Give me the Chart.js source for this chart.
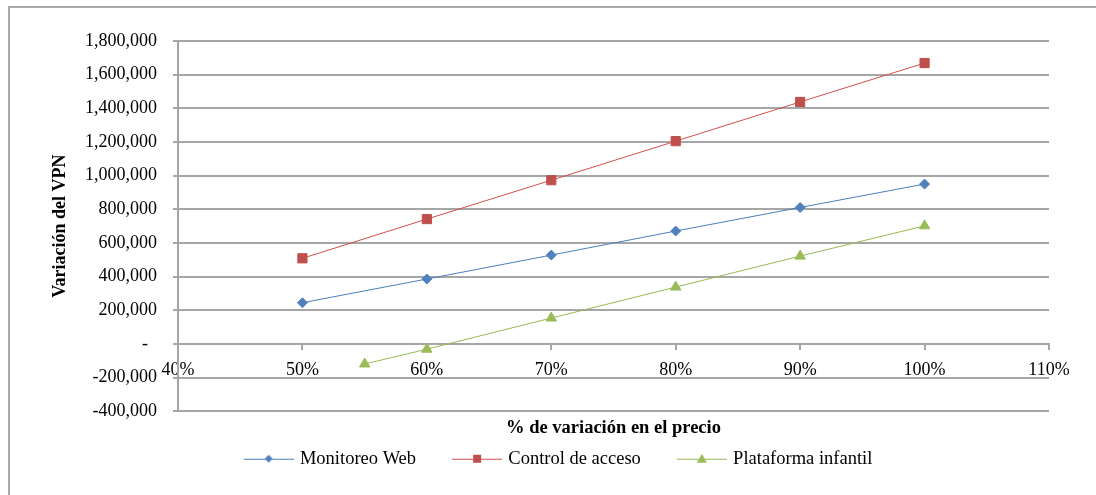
<!DOCTYPE html>
<html>
<head>
<meta charset="utf-8">
<script src="https://cdn.jsdelivr.net/npm/chart.js"></script>
<style>
  html, body { margin: 0; padding: 0; background: #fff; overflow: hidden; }
  #frame { position: absolute; left: 8px; top: 6px; width: 1200px; height: 600px; border: 2px solid #a8a8a8; box-sizing: border-box; }
  #wrap { position: absolute; left: 0; top: 0; width: 1096px; height: 495px; }
</style>
</head>
<body>
<div id="frame"></div>
<div id="wrap"><canvas id="chart"></canvas></div>
<script>
// % de variación en el precio
const precioPct = [50, 60, 70, 80, 90, 100];
const plataformaPct = [55, 60, 70, 80, 90, 100];

// Variación del VPN
const monitoreoWeb = [245000, 386000, 528000, 671000, 811000, 950000];
const controlAcceso = [509000, 742000, 973000, 1205000, 1438000, 1669000];
const plataformaInfantil = [-119000, -31000, 154000, 338000, 522000, 702000];

const xTicks = { min: 40, max: 110, step: 10 };
const yTicks = { min: -400000, max: 1800000, step: 200000 };

const FONT = '"Liberation Serif", "Times New Roman", serif';
const GRID = "#a6a6a6";

const series = [
  { label: "Monitoreo Web", x: precioPct, y: monitoreoWeb, line: "#4a7ebb", fill: "#4f81bd", style: "rectRot", r: 5 },
  { label: "Control de acceso", x: precioPct, y: controlAcceso, line: "#d0504b", fill: "#c0504d", style: "rect", r: 6.5 },
  { label: "Plataforma infantil", x: plataformaPct, y: plataformaInfantil, line: "#98b954", fill: "#9bbb59", style: "triangle", r: 6 },
];

// legend symbol: line with marker in the middle (left part kept empty as spacing)
function legendIcon(s) {
  const c = document.createElement("canvas");
  c.width = 80;
  c.height = 14;
  const g = c.getContext("2d");
  g.strokeStyle = s.line;
  g.lineWidth = 1;
  g.beginPath();
  g.moveTo(30, 7.5);
  g.lineTo(80, 7.5);
  g.stroke();
  g.fillStyle = s.fill;
  g.beginPath();
  if (s.style === "rectRot") {
    g.moveTo(55, 3); g.lineTo(59, 7); g.lineTo(55, 11); g.lineTo(51, 7);
  } else if (s.style === "rect") {
    g.rect(51, 3, 8, 8);
  } else {
    g.moveTo(55, 2); g.lineTo(60, 11); g.lineTo(50, 11);
  }
  g.closePath();
  g.fill();
  return c;
}

new Chart(document.getElementById("chart").getContext("2d"), {
  type: "line",
  data: {
    datasets: series.map((s) => ({
      label: s.label,
      data: s.x.map((v, i) => ({ x: v, y: s.y[i] })),
      borderColor: s.line,
      borderWidth: 1,
      backgroundColor: s.fill,
      pointBackgroundColor: s.fill,
      pointBorderColor: s.fill,
      pointStyle: s.style,
      pointRadius: s.r,
      pointHoverRadius: s.r,
      tension: 0,
      fill: false,
    })),
  },
  options: {
    responsive: true,
    maintainAspectRatio: false,
    animation: false,
    layout: { padding: { left: 40, right: 47, top: 41, bottom: 17 } },
    scales: {
      x: {
        type: "linear",
        position: { y: 0 },
        min: xTicks.min,
        max: xTicks.max,
        ticks: {
          stepSize: xTicks.step,
          padding: 10,
          color: "#000",
          font: { family: FONT, size: 18 },
          maxRotation: 0,
          callback: (v) => v + "%",
        },
        grid: { drawOnChartArea: false, drawTicks: true, tickLength: 5, color: GRID, lineWidth: 2 },
        border: { color: GRID, width: 2 },
      },
      y: {
        min: yTicks.min,
        max: yTicks.max,
        ticks: {
          stepSize: yTicks.step,
          padding: 16,
          color: "#000",
          font: { family: FONT, size: 18 },
          callback: (v) => (v === 0 ? "-  " : v.toLocaleString("en-US")),
        },
        grid: { color: GRID, lineWidth: 2, tickLength: 5 },
        border: { color: GRID, width: 2 },
        title: {
          display: true,
          text: "Variación del VPN",
          color: "#000",
          font: { family: FONT, size: 18, weight: "bold" },
          padding: { top: 10, bottom: 0 },
        },
        afterFit: (scale) => { scale.width = 138; },
      },
    },
    plugins: {
      title: {
        display: true,
        position: "bottom",
        fullSize: false,
        text: "% de variación en el precio",
        color: "#000",
        font: { family: FONT, size: 18.5, weight: "bold" },
        padding: { top: 6, bottom: 1 },
      },
      legend: {
        position: "bottom",
        weight: 3000,
        labels: {
          usePointStyle: true,
          pointStyleWidth: 74,
          padding: 9,
          color: "#000",
          font: { family: FONT, size: 18.5 },
          generateLabels: (chart) => series.map((s, i) => ({
            text: s.label,
            pointStyle: legendIcon(s),
            fillStyle: s.fill,
            strokeStyle: s.line,
            lineWidth: 0,
            hidden: !chart.isDatasetVisible(i),
            datasetIndex: i,
            fontColor: "#000",
          })),
        },
      },
      tooltip: { enabled: false },
    },
  },
});
</script>
</body>
</html>
